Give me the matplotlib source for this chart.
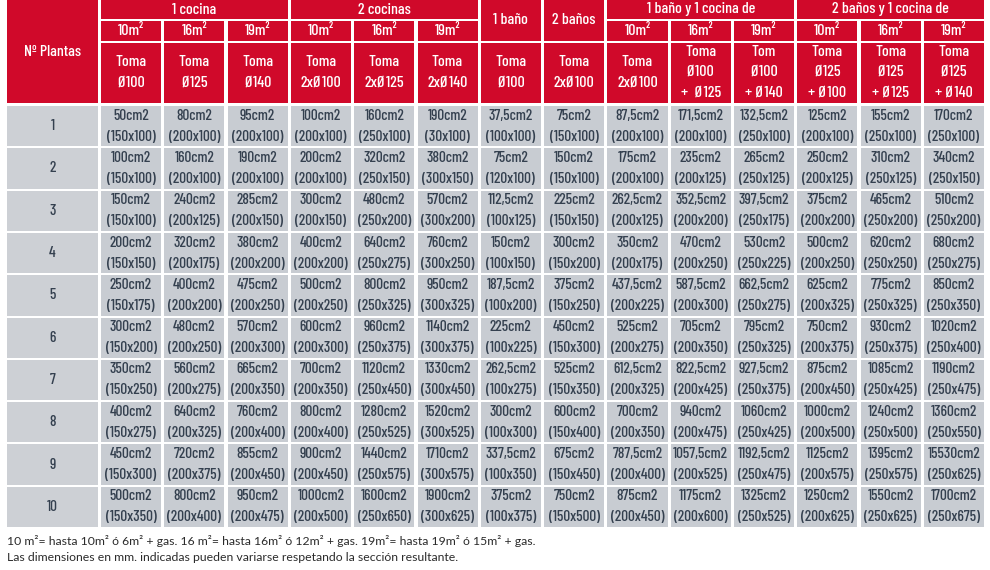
import matplotlib
matplotlib.use("Agg")
import matplotlib.pyplot as plt
from matplotlib.patches import Rectangle

# Table data
plantas = [1, 2, 3, 4, 5, 6, 7, 8, 9, 10]

groups = ["1 cocina", "2 cocinas", "1 baño", "2 baños",
          "1 baño y 1 cocina de", "2 baños y 1 cocina de"]
group_span = [3, 3, 1, 1, 3, 3]

sizes = ["10m²", "16m²", "19m²"]

tomas = ["Toma\nØ100", "Toma\nØ125", "Toma\nØ140",
         "Toma\n2xØ100", "Toma\n2xØ125", "Toma\n2xØ140",
         "Toma\nØ100", "Toma\n2xØ100",
         "Toma\n2xØ100", "Toma\nØ100\n+  Ø125", "Tom\nØ100\n+ Ø140",
         "Toma\nØ125\n+ Ø100", "Toma\nØ125\n+ Ø125", "Toma\nØ125\n+ Ø140"]

areas = [
    [50, 80, 95, 100, 160, 190, 37.5, 75, 87.5, 171.5, 132.5, 125, 155, 170],
    [100, 160, 190, 200, 320, 380, 75, 150, 175, 235, 265, 250, 310, 340],
    [150, 240, 285, 300, 480, 570, 112.5, 225, 262.5, 352.5, 397.5, 375, 465, 510],
    [200, 320, 380, 400, 640, 760, 150, 300, 350, 470, 530, 500, 620, 680],
    [250, 400, 475, 500, 800, 950, 187.5, 375, 437.5, 587.5, 662.5, 625, 775, 850],
    [300, 480, 570, 600, 960, 1140, 225, 450, 525, 705, 795, 750, 930, 1020],
    [350, 560, 665, 700, 1120, 1330, 262.5, 525, 612.5, 822.5, 927.5, 875, 1085, 1190],
    [400, 640, 760, 800, 1280, 1520, 300, 600, 700, 940, 1060, 1000, 1240, 1360],
    [450, 720, 855, 900, 1440, 1710, 337.5, 675, 787.5, 1057.5, 1192.5, 1125, 1395, 15530],
    [500, 800, 950, 1000, 1600, 1900, 375, 750, 875, 1175, 1325, 1250, 1550, 1700],
]

dims = [
    ["150x100", "200x100", "200x100", "200x100", "250x100", "30x100", "100x100", "150x100", "200x100", "200x100", "250x100", "200x100", "250x100", "250x100"],
    ["150x100", "200x100", "200x100", "200x100", "250x150", "300x150", "120x100", "150x100", "200x100", "200x125", "250x125", "200x125", "250x125", "250x150"],
    ["150x100", "200x125", "200x150", "200x150", "250x200", "300x200", "100x125", "150x150", "200x125", "200x200", "250x175", "200x200", "250x200", "250x200"],
    ["150x150", "200x175", "200x200", "200x200", "250x275", "300x250", "100x150", "150x200", "200x175", "200x250", "250x225", "200x250", "250x250", "250x275"],
    ["150x175", "200x200", "200x250", "200x250", "250x325", "300x325", "100x200", "150x250", "200x225", "200x300", "250x275", "200x325", "250x325", "250x350"],
    ["150x200", "200x250", "200x300", "200x300", "250x375", "300x375", "100x225", "150x300", "200x275", "200x350", "250x325", "200x375", "250x375", "250x400"],
    ["150x250", "200x275", "200x350", "200x350", "250x450", "300x450", "100x275", "150x350", "200x325", "200x425", "250x375", "200x450", "250x425", "250x475"],
    ["150x275", "200x325", "200x400", "200x400", "250x525", "300x525", "100x300", "150x400", "200x350", "200x475", "250x425", "200x500", "250x500", "250x550"],
    ["150x300", "200x375", "200x450", "200x450", "250x575", "300x575", "100x350", "150x450", "200x400", "200x525", "250x475", "200x575", "250x575", "250x625"],
    ["150x350", "200x400", "200x475", "200x500", "250x650", "300x625", "100x375", "150x500", "200x450", "200x600", "250x525", "200x625", "250x625", "250x675"],
]

notes = ["10 m²= hasta 10m² ó 6m² + gas. 16 m²= hasta 16m² ó 12m² + gas. 19m²= hasta 19m² ó 15m² + gas.",
         "Las dimensiones en mm. indicadas pueden variarse respetando la sección resultante."]

RED = "#d0092a"
GREY = "#c8ccd2"
GREY_FIRST = "#cdd0d5"
TXT = "#34404f"

# condensed face for the table, first one found is used
plt.rcParams["font.family"] = ["Barlow Condensed", "Fira Sans Condensed", "Roboto Condensed",
                               "Liberation Sans"]
plt.rcParams["font.weight"] = "medium"

fig = plt.figure(figsize=(9.9, 5.7), dpi=100)
ax = fig.add_axes([0, 0, 1, 1])
ax.set_xlim(0, 990)
ax.set_ylim(570, 0)
ax.axis("off")

# column geometry
x_first, w_first = 7, 91
x_start, pitch, gap = 101, 63.3, 3.2
n_cols = len(tomas)
lefts = [x_start + i * pitch for i in range(n_cols)]
cw = pitch - gap

# header rows
h1 = (0, 19)
h2 = (21, 41)
h3 = (42.5, 103)
data_top, row_pitch, row_gap = 106, 42.3, 2.0
HS = 11.5  # header text size
DS = 11    # body text size


def cell(x, y0, y1, w, color):
    ax.add_patch(Rectangle((x, y0), w, y1 - y0, facecolor=color, edgecolor="none"))


def label(x, y, s, size=10, color="white", ls=1.3):
    ax.text(x, y, s, ha="center", va="center", fontsize=size, color=color,
            linespacing=ls)


# Nº Plantas header
cell(x_first, 0, h3[1], w_first, RED)
label(x_first + w_first / 2, 52, "Nº Plantas", size=HS)

col = 0
for g, span in zip(groups, group_span):
    x0 = lefts[col]
    x1 = lefts[col + span - 1] + cw
    if span == 1:
        cell(x0, h1[0], h2[1], cw, RED)
        label((x0 + x1) / 2, (h1[0] + h2[1]) / 2, g, size=HS)
    else:
        cell(x0, h1[0], h1[1], x1 - x0, RED)
        label((x0 + x1) / 2, (h1[0] + h1[1]) / 2, g, size=HS)
        for k in range(span):
            xl = lefts[col + k]
            cell(xl, h2[0], h2[1], cw, RED)
            label(xl + cw / 2, (h2[0] + h2[1]) / 2, sizes[k], size=HS)
    col += span

for i, t in enumerate(tomas):
    cell(lefts[i], h3[0], h3[1], cw, RED)
    label(lefts[i] + cw / 2, (h3[0] + h3[1]) / 2, t, size=HS, ls=1.65)


def fmt_area(v):
    s = f"{v:g}".replace(".", ",")
    return s + "cm2"


for r, p in enumerate(plantas):
    y0 = data_top + r * row_pitch
    y1 = y0 + row_pitch - row_gap
    hh = y1 - y0
    cell(x_first, y0, y1, w_first, GREY_FIRST)
    label(x_first + w_first / 2, (y0 + y1) / 2, str(p), size=DS, color=TXT)
    for i in range(n_cols):
        cell(lefts[i], y0, y1, cw, GREY)
        label(lefts[i] + cw / 2, y0 + hh * 0.24, fmt_area(areas[r][i]), size=DS, color=TXT)
        label(lefts[i] + cw / 2, y0 + hh * 0.76, "(" + dims[r][i] + ")", size=DS, color=TXT)

for k, n in enumerate(notes):
    ax.text(7, 541 + k * 16.5, n, ha="left", va="center", fontsize=8.8,
            color="#2b2b2b", family=["Lato", "DejaVu Sans"], fontweight="normal")

fig.savefig("out.png", dpi=100)
